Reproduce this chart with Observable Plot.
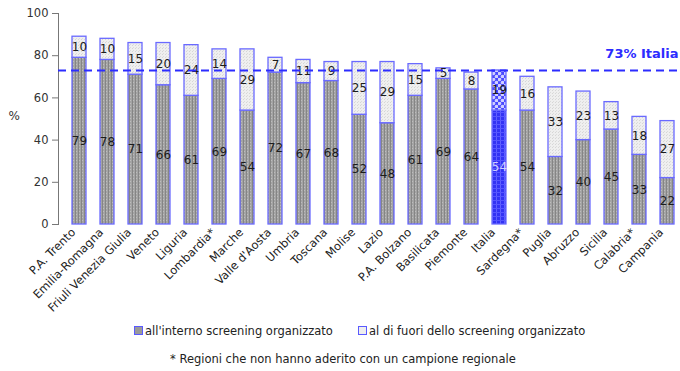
<!DOCTYPE html>
<html>
<head>
<meta charset="utf-8">
<script src="https://cdn.jsdelivr.net/npm/d3@7"></script>
<script src="https://cdn.jsdelivr.net/npm/@observablehq/plot@0.6"></script>
<style>
  html, body { margin: 0; padding: 0; background: #fff; overflow: hidden; }
  #wrap { position: relative; width: 680px; height: 371px; font-family: "DejaVu Sans", sans-serif; color: #222; }
  .legend { position: absolute; font-size: 11.5px; white-space: nowrap; line-height: 14px; }
  .swatch { display: inline-block; width: 7px; height: 7px; border: 1px solid #5a5aff; vertical-align: 0px; margin-right: 2px; }
</style>
</head>
<body>
<svg width="0" height="0" style="position:absolute">
  <defs>
    <pattern id="pIn" width="3" height="3" patternUnits="userSpaceOnUse">
      <rect width="3" height="3" fill="#a4a4a4"/>
      <rect x="0" y="0" width="1" height="3" fill="#858585"/>
      <rect x="1" y="1" width="1" height="1" fill="#bdbdbd"/>
    </pattern>
    <pattern id="pOut" width="3" height="3" patternUnits="userSpaceOnUse">
      <rect width="3" height="3" fill="#efefef"/>
      <rect x="0" y="0" width="1" height="1" fill="#d6d6d6"/>
      <rect x="1" y="2" width="1" height="1" fill="#dcdcdc"/>
    </pattern>
    <pattern id="pItIn" width="4" height="4" patternUnits="userSpaceOnUse">
      <rect width="4" height="4" fill="#3232f4"/>
      <rect x="0" y="0" width="1" height="4" fill="#6060ff"/>
      <rect x="0" y="0" width="4" height="1" fill="#5555ff"/>
    </pattern>
    <pattern id="pItOut" width="6" height="6" patternUnits="userSpaceOnUse">
      <rect width="6" height="6" fill="#4848ff"/>
      <circle cx="1.5" cy="1.5" r="1.8" fill="#d0d0ff"/>
      <circle cx="4.5" cy="4.5" r="1.8" fill="#d0d0ff"/>
    </pattern>
  </defs>
</svg>
<div id="wrap"></div>
<script>
// Adesione allo screening: quota all'interno e al di fuori dei programmi organizzati
const regions = [
  "P.A. Trento", "Emilia-Romagna", "Friuli Venezia Giulia", "Veneto", "Liguria",
  "Lombardia*", "Marche", "Valle d'Aosta", "Umbria", "Toscana", "Molise", "Lazio",
  "P.A. Bolzano", "Basilicata", "Piemonte", "Italia", "Sardegna*", "Puglia",
  "Abruzzo", "Sicilia", "Calabria*", "Campania"
];
const inside  = [79, 78, 71, 66, 61, 69, 54, 72, 67, 68, 52, 48, 61, 69, 64, 54, 54, 32, 40, 45, 33, 22];
const outside = [10, 10, 15, 20, 24, 14, 29,  7, 11,  9, 25, 29, 15,  5,  8, 19, 16, 33, 23, 13, 18, 27];
const italiaTotal = 73;
const yTicks = [0, 20, 40, 60, 80, 100];
const seriesLabels = ["all'interno screening organizzato", "al di fuori dello screening organizzato"];
const footnote = "* Regioni che non hanno aderito con un campione regionale";

const rows = regions.flatMap((region, i) => [
  {region, part: "in", value: inside[i], italia: region === "Italia"},
  {region, part: "out", value: outside[i], italia: region === "Italia"}
]);

const patternFor = d => d.italia
  ? (d.part === "in" ? "url(#pItIn)" : "url(#pItOut)")
  : (d.part === "in" ? "url(#pIn)" : "url(#pOut)");

const chart = Plot.plot({
  width: 687,
  height: 312,
  marginLeft: 58,
  marginRight: 0,
  marginTop: 13,
  marginBottom: 88,
  style: {fontFamily: "DejaVu Sans", fontSize: "11px", maxWidth: "none", overflow: "visible", background: "white"},
  x: {domain: regions, paddingInner: 0.5, paddingOuter: 0.25, label: null},
  y: {domain: [0, 100], label: null},
  color: {type: "identity"},
  marks: [
    Plot.frame({anchor: "left", stroke: "#777"}),
    Plot.axisY({ticks: yTicks, tickSize: 6, tickPadding: 4, fontSize: 11.5, stroke: "#777", fill: "#333", label: null}),
    Plot.axisX({tickRotate: -45, tickSize: 0, tickPadding: 6, dx: -6, fontSize: 11.5, fill: "#222", label: null}),
    Plot.text(["%"], {frameAnchor: "left", dx: -50, dy: -3, fontSize: 12, fill: "#333"}),
    Plot.barY(rows, Plot.stackY({
      x: "region", y: "value", z: "part",
      fill: patternFor, stroke: "#6a6aff", strokeWidth: 1.3
    })),
    Plot.text(rows, Plot.stackY({
      x: "region", y: "value", z: "part",
      text: d => String(d.value),
      fill: d => (d.italia && d.part === "in") ? "#d0d0ff" : "#1c1c1c",
      fontSize: 12
    })),
    Plot.ruleY([italiaTotal], {stroke: "#2c2cff", strokeWidth: 2, strokeDasharray: "8,5"}),
    Plot.text([italiaTotal], {
      y: d => d, text: d => `${d}% Italia`, frameAnchor: "right", textAnchor: "end",
      dx: -9, dy: -17, fontWeight: "bold", fontSize: 13, fill: "#2c2cff"
    })
  ]
});

const wrap = document.getElementById("wrap");
wrap.appendChild(chart);

function legendItem(text, fill, left, top) {
  const el = document.createElement("div");
  el.className = "legend";
  el.style.left = left + "px";
  el.style.top = top + "px";
  const sw = document.createElement("span");
  sw.className = "swatch";
  sw.style.background = fill;
  el.appendChild(sw);
  el.appendChild(document.createTextNode(text));
  wrap.appendChild(el);
}
legendItem(seriesLabels[0], "#9a9a9a", 134, 324);
legendItem(seriesLabels[1], "#eeeeee", 358, 324);

const note = document.createElement("div");
note.className = "legend";
note.style.left = "170px";
note.style.top = "352px";
note.textContent = footnote;
wrap.appendChild(note);
</script>
</body>
</html>
